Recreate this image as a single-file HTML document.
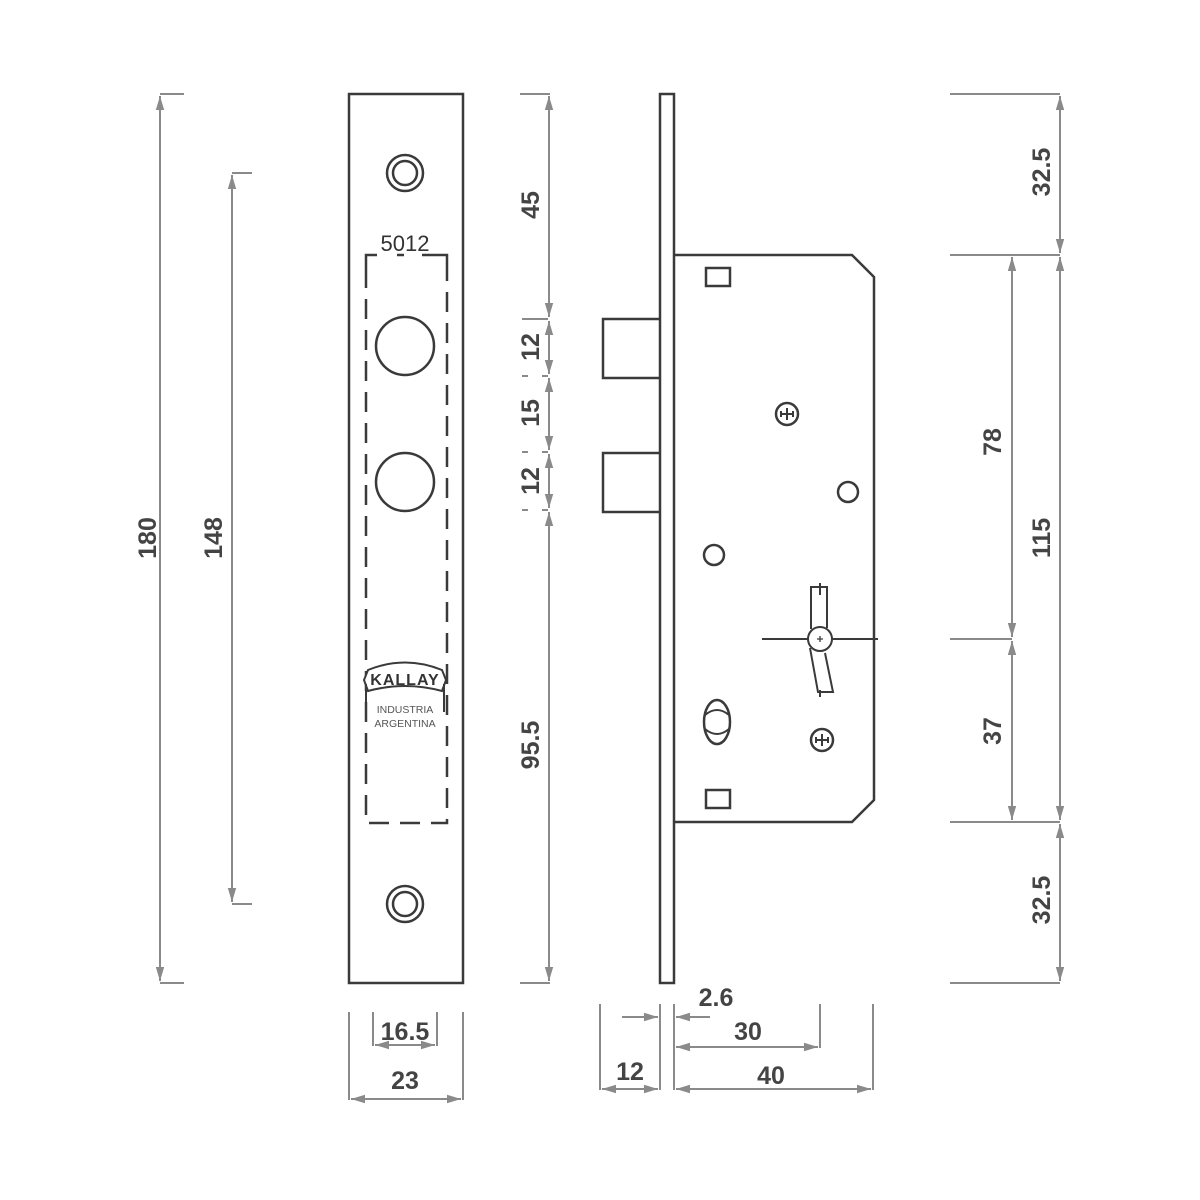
<!DOCTYPE html>
<html><head><style>html,body{margin:0;padding:0;background:#fff;}svg{display:block}</style></head>
<body>
<svg width="1200" height="1200" viewBox="0 0 1200 1200" xmlns="http://www.w3.org/2000/svg">
<defs>
<marker id="a" viewBox="0 0 10 10" refX="10" refY="5" markerWidth="7" markerHeight="7" orient="auto-start-reverse"><path d="M0,2 L10,5 L0,8 z" fill="#8a8a8a"/></marker>
</defs>
<g fill="none" stroke="#3a3a3a" stroke-width="2.5">
<rect x="349" y="94" width="114" height="889"/>
<circle cx="405" cy="173" r="18"/><circle cx="405" cy="173" r="12"/>
<circle cx="405" cy="904" r="18"/><circle cx="405" cy="904" r="12"/>
<circle cx="405" cy="346" r="29"/><circle cx="405" cy="482" r="29"/>
<path d="M366,268 V255 H377 M397,255 H404 M422,255 H447 V268" />
<path d="M366,268 V823 H447 V268" stroke-dasharray="20,11"/>
<!-- logo -->
<path d="M368,670 Q405,655 442,670 L446,680 L442,691 Q405,681 368,691 L364,680 Z" stroke-width="2" fill="#fff"/>
<path d="M366,684 V712 M444,684 V712" stroke-width="2"/>
<rect x="660" y="94" width="14" height="889"/>
<path d="M674,255 H852 L874,277 V800 L852,822 H674"/>
<path d="M660,319 H603 V378 H660 M660,453 H603 V512 H660"/>
<rect x="706" y="268" width="24" height="18"/>
<rect x="706" y="790" width="24" height="18"/>
<circle cx="787" cy="414" r="11"/><circle cx="822" cy="740" r="11"/>
<circle cx="848" cy="492" r="10"/><circle cx="714" cy="555" r="10"/>
<ellipse cx="717" cy="722" rx="13" ry="22"/>
<path d="M705,715 Q717,705 729,715 M705,729 Q717,739 729,729" stroke-width="2"/>
<path d="M762,639 H808 M832,639 H878" stroke-width="2"/>
<path d="M820,583 V595 M820,690 V697" stroke-width="2"/>
<path d="M811,629 V587 H827 V628" stroke-width="2"/>
<path d="M810,648 L818,692 L833,692 L825,653" stroke-width="2"/>
<circle cx="820" cy="639" r="12" stroke-width="2"/>
</g>
<g stroke="#3a3a3a" stroke-width="2" fill="none">
<path d="M781,414 H793 M787,408 V420 M781,411 V417 M793,411 V417"/>
<path d="M816,740 H828 M822,734 V746 M816,737 V743 M828,737 V743"/>
<path d="M817,639 H823 M820,636 V642" stroke-width="1.3"/>
</g>
<g font-family="Liberation Sans, sans-serif" fill="#333" text-anchor="middle">
<text x="405" y="251" font-size="22">5012</text>
<text x="405" y="685" font-size="16" font-weight="bold" letter-spacing="1">KALLAY</text>
<text x="405" y="713" font-size="10.5" fill="#555">INDUSTRIA</text>
<text x="405" y="727" font-size="10.5" fill="#555">ARGENTINA</text>
</g>
<g stroke="#8a8a8a" stroke-width="2" fill="none">
<path d="M160,94 H184 M160,983 H184"/>
<line x1="160" y1="96" x2="160" y2="981" marker-start="url(#a)" marker-end="url(#a)"/>
<path d="M232,173 H252 M232,904 H252"/>
<line x1="232" y1="175" x2="232" y2="902" marker-start="url(#a)" marker-end="url(#a)"/>
<path d="M520,94 H550 M520,983 H550 M522,319 H548 M522,376 H528 M542,376 H548 M522,452 H528 M542,452 H548 M522,510 H528 M542,510 H548"/>
<line x1="549" y1="96" x2="549" y2="317" marker-start="url(#a)" marker-end="url(#a)"/>
<line x1="549" y1="321" x2="549" y2="374" marker-start="url(#a)" marker-end="url(#a)"/>
<line x1="549" y1="378" x2="549" y2="450" marker-start="url(#a)" marker-end="url(#a)"/>
<line x1="549" y1="454" x2="549" y2="508" marker-start="url(#a)" marker-end="url(#a)"/>
<line x1="549" y1="512" x2="549" y2="981" marker-start="url(#a)" marker-end="url(#a)"/>
<path d="M950,94 H1060 M950,255 H1060 M950,822 H1060 M950,983 H1060 M950,639 H1012"/>
<line x1="1060" y1="96" x2="1060" y2="253" marker-start="url(#a)" marker-end="url(#a)"/>
<line x1="1060" y1="257" x2="1060" y2="820" marker-start="url(#a)" marker-end="url(#a)"/>
<line x1="1060" y1="824" x2="1060" y2="981" marker-start="url(#a)" marker-end="url(#a)"/>
<line x1="1012" y1="257" x2="1012" y2="637" marker-start="url(#a)" marker-end="url(#a)"/>
<line x1="1012" y1="641" x2="1012" y2="820" marker-start="url(#a)" marker-end="url(#a)"/>
<path d="M373,1012 V1046 M437,1012 V1046 M349,1012 V1100 M463,1012 V1100"/>
<line x1="375" y1="1045" x2="435" y2="1045" marker-start="url(#a)" marker-end="url(#a)"/>
<line x1="351" y1="1099" x2="461" y2="1099" marker-start="url(#a)" marker-end="url(#a)"/>
<path d="M600,1004 V1090 M660,1004 V1090 M674,1004 V1090 M820,1004 V1048 M873,1004 V1090"/>
<line x1="622" y1="1017" x2="658" y2="1017" marker-end="url(#a)"/>
<line x1="710" y1="1017" x2="676" y2="1017" marker-end="url(#a)"/>
<line x1="676" y1="1047" x2="818" y2="1047" marker-start="url(#a)" marker-end="url(#a)"/>
<line x1="602" y1="1089" x2="658" y2="1089" marker-start="url(#a)" marker-end="url(#a)"/>
<line x1="676" y1="1089" x2="871" y2="1089" marker-start="url(#a)" marker-end="url(#a)"/>
</g>
<g font-family="Liberation Sans, DejaVu Sans, sans-serif" font-size="25" font-weight="bold" fill="#444" text-anchor="middle">
<text transform="translate(156,538) rotate(-90)">180</text>
<text transform="translate(222,538) rotate(-90)">148</text>
<text transform="translate(539,205) rotate(-90)">45</text>
<text transform="translate(539,347) rotate(-90)">12</text>
<text transform="translate(539,413) rotate(-90)">15</text>
<text transform="translate(539,481) rotate(-90)">12</text>
<text transform="translate(539,745) rotate(-90)">95.5</text>
<text transform="translate(1050,172) rotate(-90)">32.5</text>
<text transform="translate(1050,538) rotate(-90)">115</text>
<text transform="translate(1050,900) rotate(-90)">32.5</text>
<text transform="translate(1001,442) rotate(-90)">78</text>
<text transform="translate(1001,731) rotate(-90)">37</text>
<text x="405" y="1040">16.5</text>
<text x="405" y="1089">23</text>
<text x="630" y="1080">12</text>
<text x="716" y="1006">2.6</text>
<text x="748" y="1040">30</text>
<text x="771" y="1084">40</text>
</g>
</svg>
</body></html>
